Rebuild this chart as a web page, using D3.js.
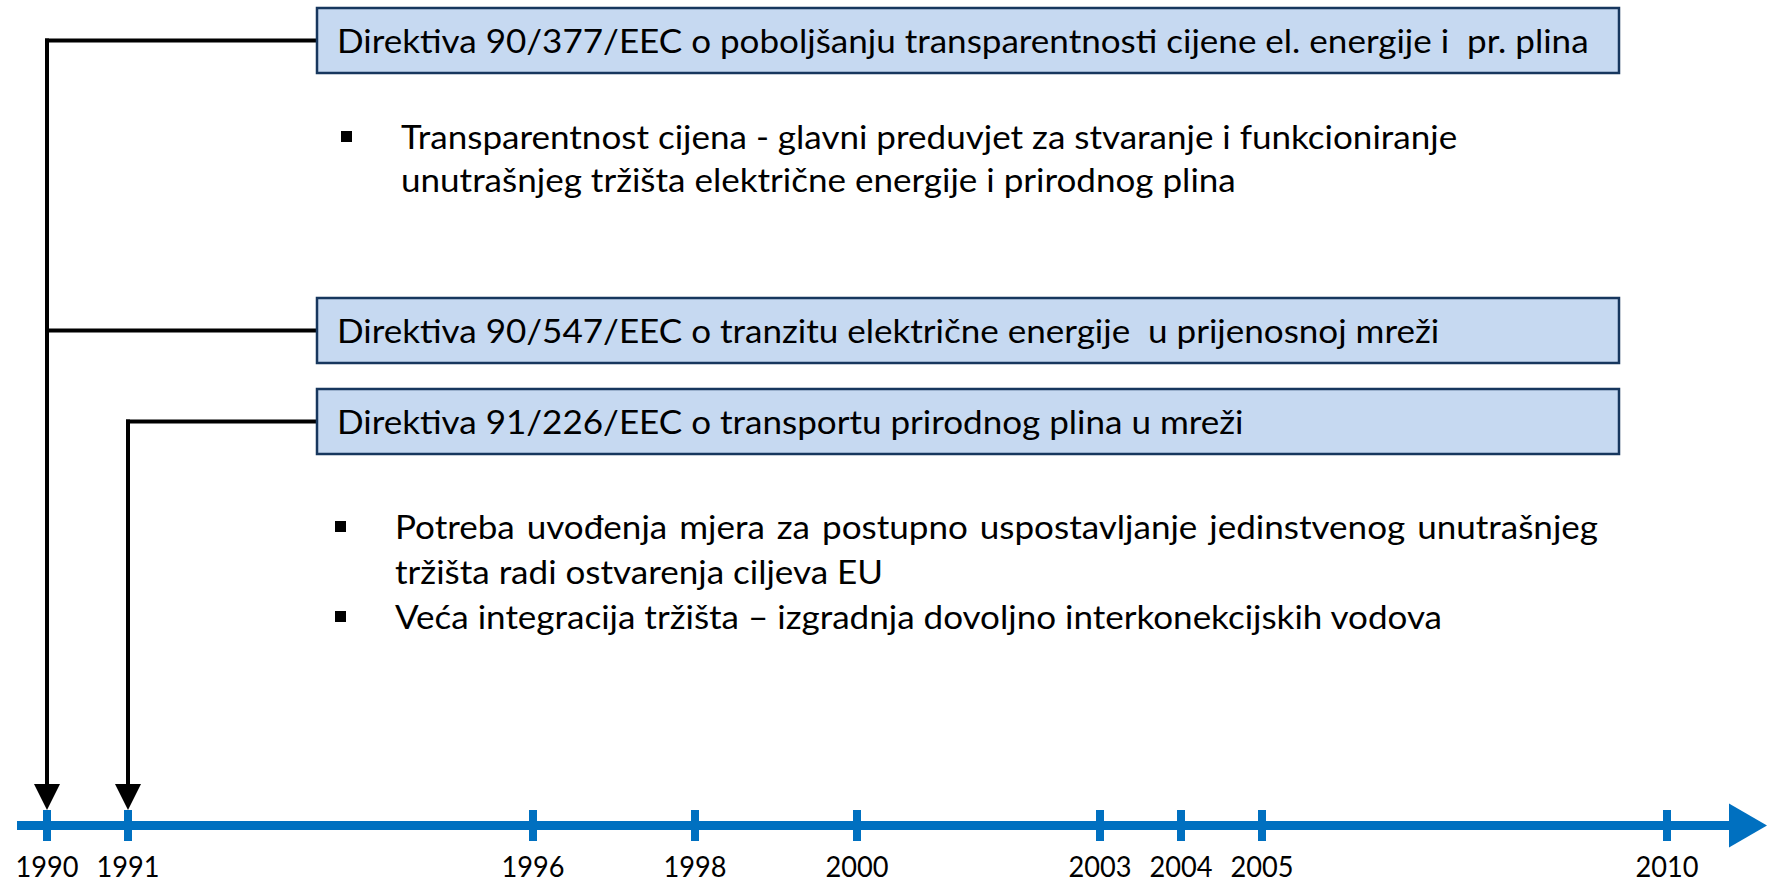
<!DOCTYPE html>
<html>
<head>
<meta charset="utf-8">
<script src="https://cdn.jsdelivr.net/npm/d3@7"></script>
<style>
  html, body { margin: 0; padding: 0; background: #ffffff; }
  svg { display: block; }
  text { font-family: Lato, "Open Sans", "Noto Sans", sans-serif; fill: #000; }
</style>
</head>
<body>
<svg id="chart" width="1767" height="885"></svg>
<script>
// ---------- data ----------
const years = [1990, 1991, 1996, 1998, 2000, 2003, 2004, 2005, 2010];
const directiveTexts = [
  "Direktiva 90/377/EEC o poboljšanju transparentnosti cijene el. energije i  pr. plina",
  "Direktiva 90/547/EEC o tranzitu električne energije  u prijenosnoj mreži",
  "Direktiva 91/226/EEC o transportu prirodnog plina u mreži"
];
const directiveYears = [1990, 1990, 1991];
const bulletsTop = [
  ["Transparentnost cijena - glavni preduvjet za stvaranje i funkcioniranje",
   "unutrašnjeg tržišta električne energije i prirodnog plina"]
];
const bulletsBottom = [
  ["Potreba uvođenja mjera za postupno uspostavljanje jedinstvenog unutrašnjeg",
   "tržišta radi ostvarenja ciljeva EU"],
  ["Veća integracija tržišta – izgradnja dovoljno interkonekcijskih vodova"]
];

// ---------- layout ----------
const W = 1767, H = 885;
const axisY = 825.5;
const boxX0 = 317, boxX1 = 1619;
const boxTops = [8, 298, 389];
const boxH = 65;
const blue = "#0070c0";
const bodyFS = 32.5;
const yearFS = 28;

const svg = d3.select("#chart");

const x = d3.scaleLinear().domain([1990, 2010]).range([47, 1667]);

// horizontal condensing factor (Calibri-like narrow glyphs)
function measure(str, size) {
  const t = svg.append("text").attr("font-size", size).style("white-space", "pre").text(str);
  const w = t.node().getComputedTextLength();
  t.remove();
  return w;
}
const bodySX = 1252 / measure(directiveTexts[0], bodyFS);
const yearSX = 63 / measure("1990", yearFS);

function condensed(parent, str, tx, ty, size, sx, anchor) {
  const g = parent.append("g").attr("transform", `translate(${tx},${ty}) scale(${sx},1)`);
  return g.append("text")
    .attr("x", 0).attr("y", 0)
    .attr("font-size", size)
    .attr("text-anchor", anchor || "start")
    .style("white-space", "pre")
    .text(str);
}

// ---------- timeline ----------
svg.append("line")
  .attr("x1", 17).attr("x2", 1731)
  .attr("y1", axisY).attr("y2", axisY)
  .attr("stroke", blue).attr("stroke-width", 9);
svg.append("path")
  .attr("d", d3.line()([[1729, axisY - 22], [W, axisY], [1729, axisY + 22]]) + "Z")
  .attr("fill", blue);

svg.selectAll("rect.tick").data(years).join("rect")
  .attr("class", "tick")
  .attr("x", d => x(d) - 4).attr("width", 8)
  .attr("y", 810).attr("height", 31)
  .attr("fill", blue);

years.forEach(d => {
  condensed(svg, String(d), x(d), 877, yearFS, yearSX, "middle");
});

// ---------- connectors ----------
const conn = svg.append("g").attr("stroke", "#000").attr("stroke-width", 4).attr("fill", "none");
directiveYears.forEach((yr, i) => {
  const cy = boxTops[i] + boxH / 2;
  conn.append("line")
    .attr("x1", x(yr) - 2).attr("x2", boxX0)
    .attr("y1", cy).attr("y2", cy);
});
const stemYears = Array.from(new Set(directiveYears));
stemYears.forEach(yr => {
  const idx = directiveYears.indexOf(yr);
  const cy = boxTops[idx] + boxH / 2;
  conn.append("line")
    .attr("x1", x(yr)).attr("x2", x(yr))
    .attr("y1", cy - 2).attr("y2", 786);
  svg.append("path")
    .attr("d", d3.line()([[x(yr) - 13, 784], [x(yr) + 13, 784], [x(yr), 810]]) + "Z")
    .attr("fill", "#000");
});

// ---------- boxes ----------
directiveTexts.forEach((t, i) => {
  svg.append("rect")
    .attr("x", boxX0).attr("y", boxTops[i])
    .attr("width", boxX1 - boxX0).attr("height", boxH)
    .attr("fill", "#c6d9f1")
    .attr("stroke", "#17375e").attr("stroke-width", 2.5);
  condensed(svg, t, 337, boxTops[i] + boxH / 2 + 12, bodyFS, bodySX);
});

// ---------- bullets ----------
function drawBullets(groups, bx, tx, y0, lh, justifyTo) {
  let y = y0;
  groups.forEach(lines => {
    svg.append("rect")
      .attr("x", bx).attr("y", y - 18).attr("width", 11).attr("height", 11)
      .attr("fill", "#000");
    lines.forEach((ln, j) => {
      const t = condensed(svg, ln, tx, y, bodyFS, bodySX);
      if (justifyTo && lines.length > 1 && j < lines.length - 1) {
        const w = t.node().getComputedTextLength() * bodySX;
        const spaces = (ln.match(/ /g) || []).length;
        t.attr("word-spacing", (justifyTo - tx - w) / spaces / bodySX);
      }
      y += lh;
    });
  });
}
drawBullets(bulletsTop, 341, 401, 149, 43, null);
drawBullets(bulletsBottom, 335, 395, 539, 45, 1598);
</script>
</body>
</html>
